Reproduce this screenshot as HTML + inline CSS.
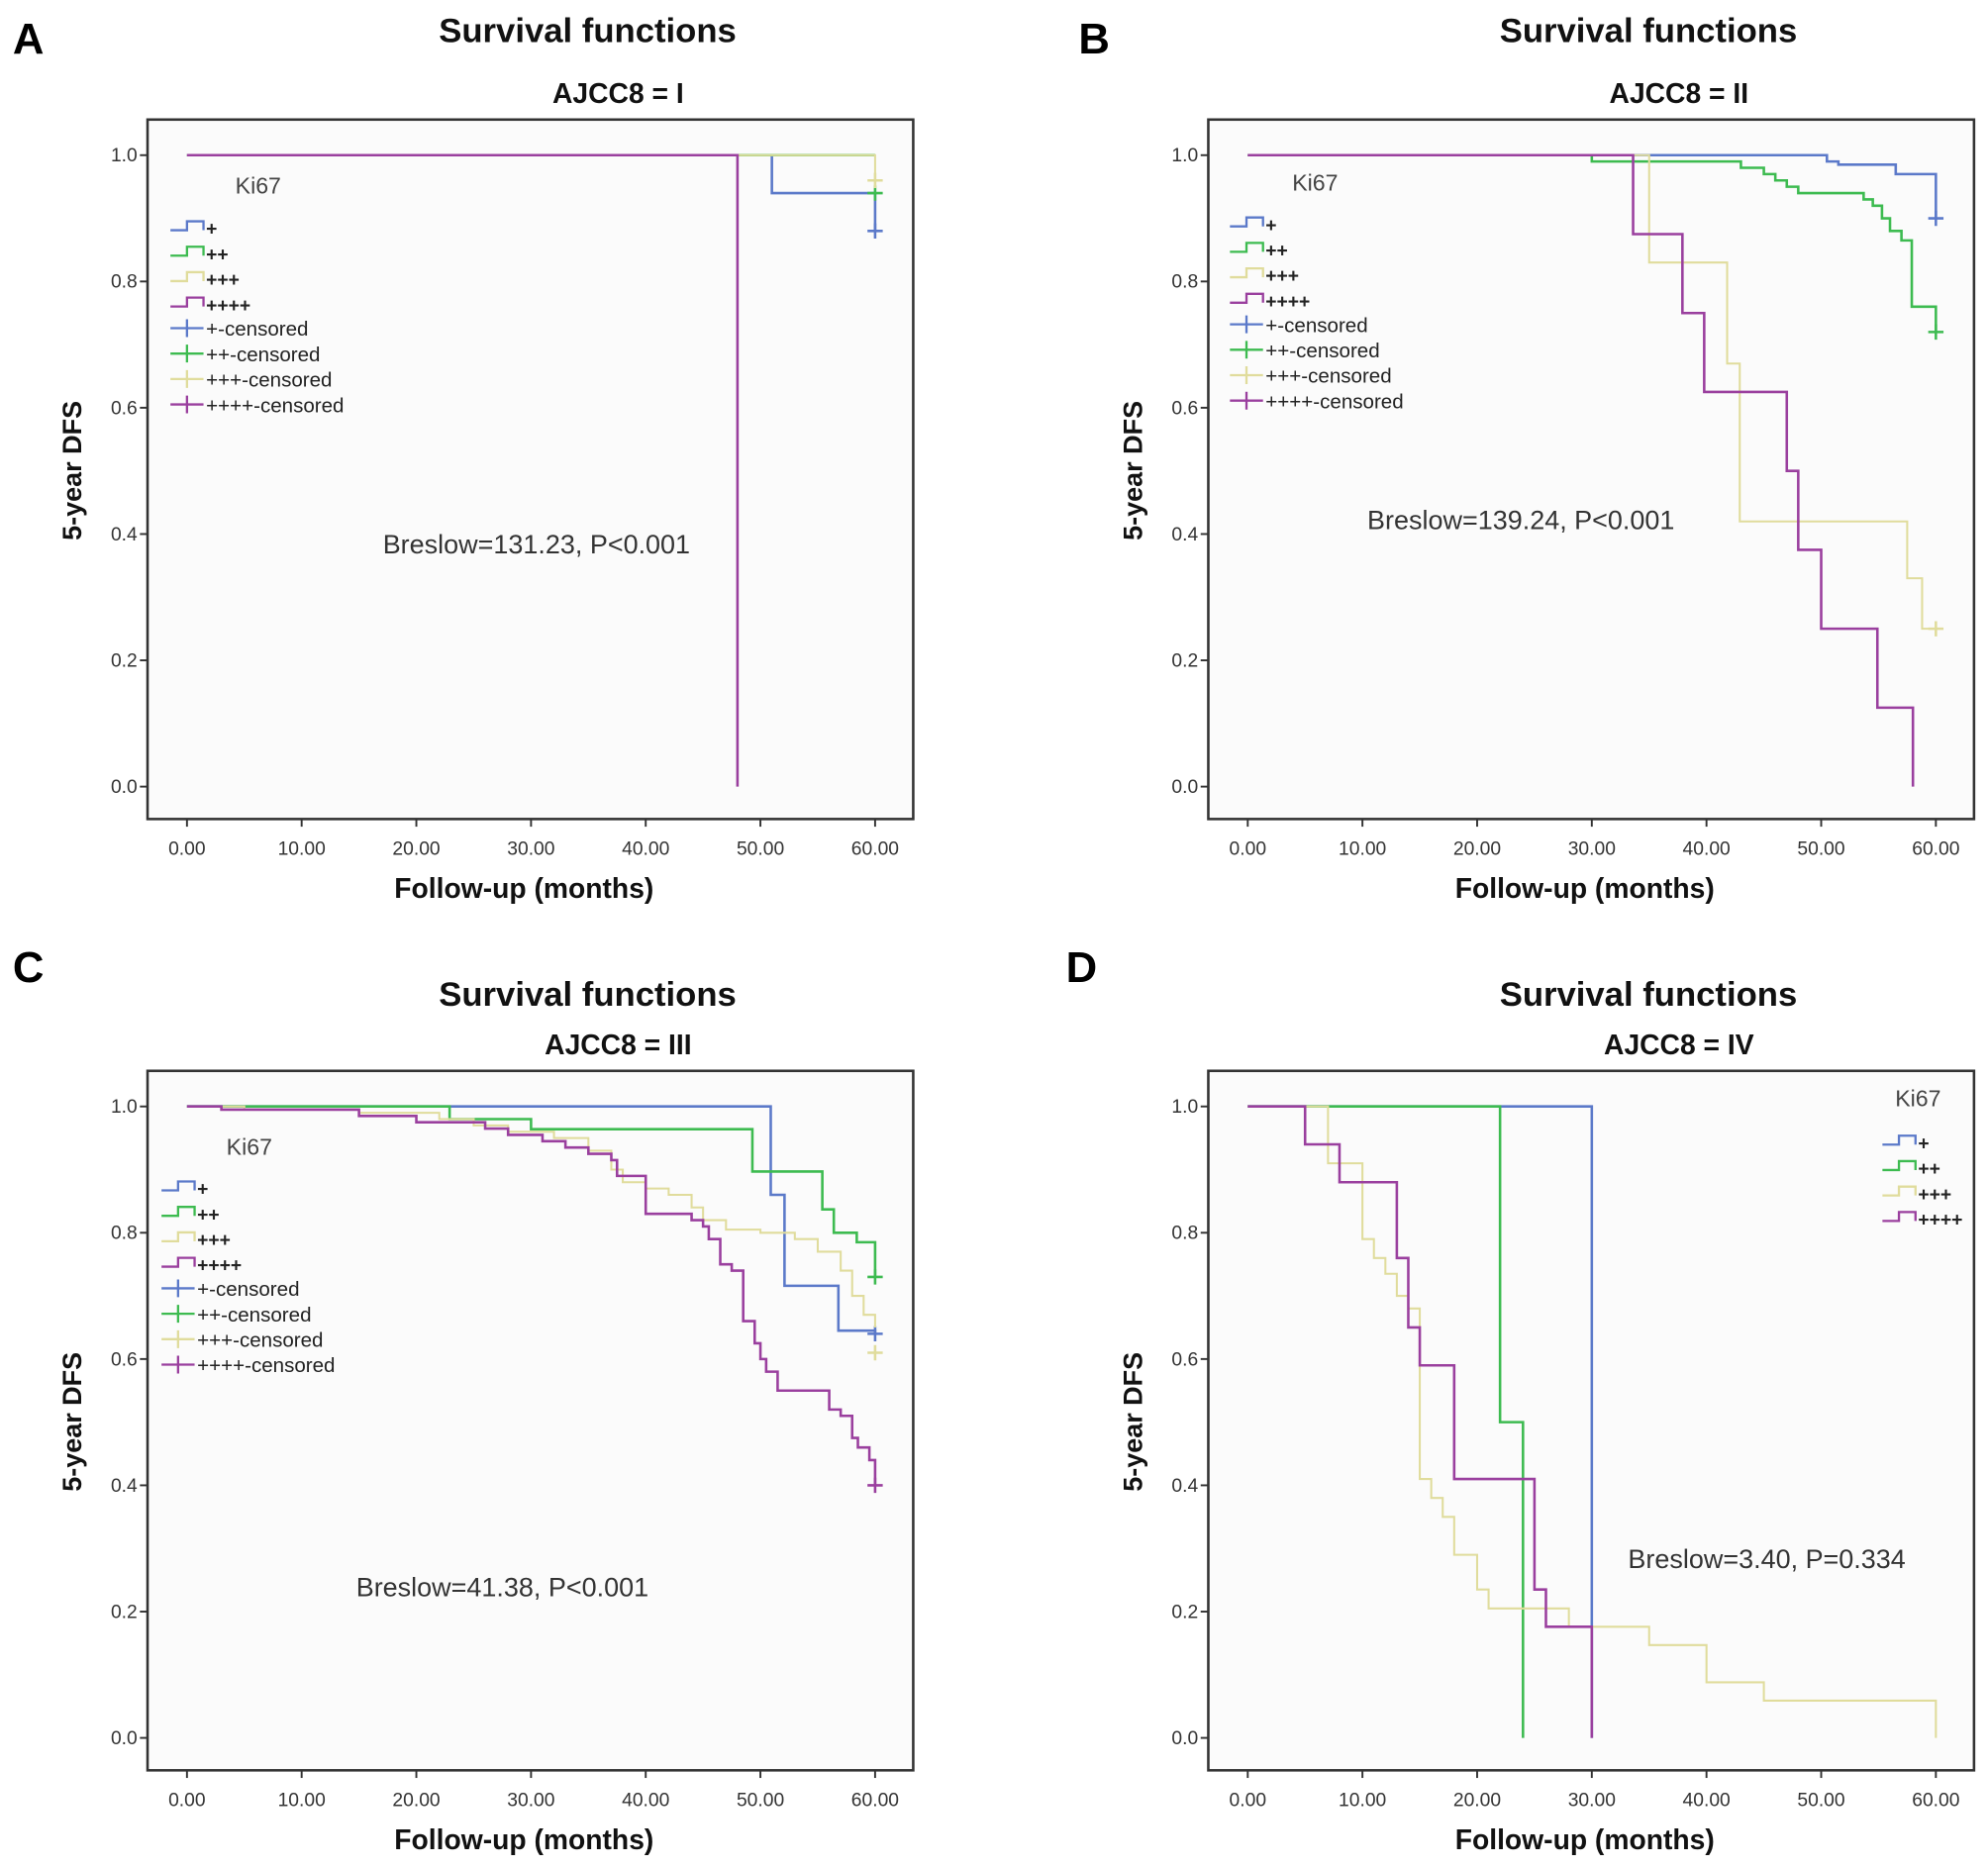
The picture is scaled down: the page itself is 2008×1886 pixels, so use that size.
<!DOCTYPE html>
<html><head><meta charset="utf-8">
<style>
html,body{margin:0;padding:0;background:#fff;}
svg{display:block;font-family:"Liberation Sans",Arial,sans-serif;}
</style></head>
<body>
<svg id="fig" width="2008" height="1886" viewBox="0 0 1563 1468" xmlns="http://www.w3.org/2000/svg"></svg>
<script>
// ---- data (time in months, survival value after the step) ----
const xTicks = [0,10,20,30,40,50,60];
const xTickLabels = ["0.00","10.00","20.00","30.00","40.00","50.00","60.00"];
const yTicks = [0,0.2,0.4,0.6,0.8,1.0];
const yTickLabels = ["0.0","0.2","0.4","0.6","0.8","1.0"];
const groupNames = ["+","++","+++","++++"];
const panelLetters = ["A","B","C","D"];
const panelSubtitles = ["AJCC8 = I","AJCC8 = II","AJCC8 = III","AJCC8 = IV"];
const breslowTexts = ["Breslow=131.23, P<0.001","Breslow=139.24,  P<0.001","Breslow=41.38, P<0.001","Breslow=3.40, P=0.334"];

// Panel A
const aPlusT=[51,60], aPlusS=[0.94,0.88], aPlusEnd=60, aPlusCens=[0.88];
const aPP_T=[], aPP_S=[], aPP_End=60, aPP_Cens=[0.94];
const aPPP_T=[60], aPPP_S=[0.96], aPPP_End=60, aPPP_Cens=[0.96];
const aPPPP_T=[48], aPPPP_S=[0], aPPPP_End=48, aPPPP_Cens=[];
// Panel B
const bPlusT=[50.5,51.5,56.5,60], bPlusS=[0.99,0.985,0.97,0.90], bPlusEnd=60, bPlusCens=[0.90];
const bPP_T=[30,43,45,46,47,48,53.7,54.5,55.3,56,57,57.9,60], bPP_S=[0.99,0.98,0.97,0.96,0.95,0.94,0.93,0.92,0.90,0.88,0.865,0.76,0.72], bPP_End=60, bPP_Cens=[0.72];
const bPPP_T=[35,41.8,42.9,57.5,58.8,60], bPPP_S=[0.83,0.67,0.42,0.33,0.25,0.25], bPPP_End=60, bPPP_Cens=[0.25];
const bPPPP_T=[33.6,37.9,39.8,47,48,50,54.9,58], bPPPP_S=[0.875,0.75,0.625,0.5,0.375,0.25,0.125,0], bPPPP_End=58, bPPPP_Cens=[];
// Panel C
const cPlusT=[50.9,52.1,56.8,60], cPlusS=[0.86,0.716,0.645,0.64], cPlusEnd=60, cPlusCens=[0.64];
const cPP_T=[22.9,30,49.3,55.4,56.4,58.4,60], cPP_S=[0.98,0.964,0.897,0.837,0.80,0.785,0.73], cPP_End=60, cPP_Cens=[0.73];
const cPPP_T=[5,15,22,25,28,32,35,37,38,40,42,44,45,47,50,53,55,57,58,59,60], cPPP_S=[0.995,0.99,0.98,0.97,0.96,0.95,0.93,0.90,0.88,0.87,0.86,0.84,0.82,0.805,0.80,0.79,0.77,0.74,0.70,0.67,0.65], cPPP_End=60, cPPP_Cens=[0.61];
const cPPPP_T=[3,15,20,26,28,31,33,35,37,37.5,40,44,45,45.5,46.5,47.5,48.5,49.5,50,50.5,51.5,56,57,58,58.5,59.5,60], cPPPP_S=[0.995,0.985,0.975,0.965,0.955,0.945,0.935,0.925,0.915,0.89,0.83,0.82,0.81,0.79,0.75,0.74,0.66,0.625,0.60,0.58,0.55,0.52,0.51,0.475,0.46,0.44,0.40], cPPPP_End=60, cPPPP_Cens=[0.40];
// Panel D
const dPlusT=[30], dPlusS=[0], dPlusEnd=30, dPlusCens=[];
const dPP_T=[22,24], dPP_S=[0.5,0], dPP_End=24, dPP_Cens=[];
const dPPP_T=[7,10,11,12,13,14,15,16,17,18,20,21,28,35,40,45,60], dPPP_S=[0.91,0.79,0.76,0.735,0.70,0.68,0.41,0.38,0.35,0.29,0.235,0.205,0.176,0.147,0.088,0.059,0], dPPP_End=60, dPPP_Cens=[];
const dPPPP_T=[5,8,13,14,15,18,25,26,30], dPPPP_S=[0.94,0.88,0.76,0.65,0.59,0.41,0.235,0.176,0], dPPPP_End=30, dPPPP_Cens=[];

const colors=["#5b79c9","#3dbb50","#e0dc9c","#9a3f9e"];
const NS="http://www.w3.org/2000/svg";
const svg=document.getElementById("fig");
function mk(tag,attrs,parent){const e=document.createElementNS(NS,tag);for(const k in attrs)e.setAttribute(k,attrs[k]);(parent||svg).appendChild(e);return e;}
function txt(str,attrs,parent){const e=mk("text",attrs,parent);e.textContent=str;return e;}

const panels=[
 {fx:116,fy:94,tdy:-61,lx:10,ly:42,series:[[aPlusT,aPlusS,aPlusEnd,aPlusCens],[aPP_T,aPP_S,aPP_End,aPP_Cens],[aPPP_T,aPPP_S,aPPP_End,aPPP_Cens],[aPPPP_T,aPPPP_S,aPPPP_End,aPPPP_Cens]],leg:{x:134,y:178,kx:185,ky:152,cens:true},br:[301,435]},
 {fx:950,fy:94,tdy:-61,lx:848,ly:42,series:[[bPlusT,bPlusS,bPlusEnd,bPlusCens],[bPP_T,bPP_S,bPP_End,bPP_Cens],[bPPP_T,bPPP_S,bPPP_End,bPPP_Cens],[bPPPP_T,bPPPP_S,bPPPP_End,bPPPP_Cens]],leg:{x:967,y:175,kx:1016,ky:150,cens:true},br:[1075,416]},
 {fx:116,fy:842,tdy:-51,lx:10,ly:772,series:[[cPlusT,cPlusS,cPlusEnd,cPlusCens],[cPP_T,cPP_S,cPP_End,cPP_Cens],[cPPP_T,cPPP_S,cPPP_End,cPPP_Cens],[cPPPP_T,cPPPP_S,cPPPP_End,cPPPP_Cens]],leg:{x:127,y:933,kx:178,ky:908,cens:true},br:[280,1255]},
 {fx:950,fy:842,tdy:-51,lx:838,ly:772,series:[[dPlusT,dPlusS,dPlusEnd,dPlusCens],[dPP_T,dPP_S,dPP_End,dPP_Cens],[dPPP_T,dPPP_S,dPPP_End,dPPP_Cens],[dPPPP_T,dPPPP_S,dPPPP_End,dPPPP_Cens]],leg:{x:1480,y:897,kx:1490,ky:870,cens:false},br:[1280,1233]}
];

panels.forEach((p,pi)=>{
  const g=mk("g",{});
  
  
  const W=602,H=550;
  const x0=p.fx+31, xs=9.017; const y1=p.fy+28, ys=496.5;
  const X=t=>x0+t*xs, Y=s=>y1+(1-s)*ys;
  const cx=p.fx+W/2+45;
  const t1=txt("Survival functions",{x:cx,y:p.fy+p.tdy,"text-anchor":"middle","font-size":"27","font-weight":"bold",fill:"#111"},g);
  
  
  const t2=txt(panelSubtitles[pi],{x:p.fx+W/2+69,y:p.fy-13,"text-anchor":"middle","font-size":"22","font-weight":"bold",fill:"#111"},g);
  
  
  const pl=txt(panelLetters[pi],{x:p.lx,y:p.ly,"font-size":"34","font-weight":"bold",fill:"#000"},g);
  
  
  const fr=mk("rect",{x:p.fx,y:p.fy,width:W,height:H,fill:"#fbfbfb",stroke:"#333","stroke-width":"2"},g);
  
  
  yTicks.forEach((v,i)=>{
    const tk=mk("line",{x1:p.fx-6,x2:p.fx,y1:Y(v),y2:Y(v),stroke:"#333","stroke-width":"1.5"},g);
    
    
    const tl=txt(yTickLabels[i],{x:p.fx-8,y:Y(v)+5,"text-anchor":"end","font-size":"15",fill:"#333"},g);
    
    
  });
  xTicks.forEach((v,i)=>{
    const tk=mk("line",{x1:X(v),x2:X(v),y1:p.fy+H,y2:p.fy+H+6,stroke:"#333","stroke-width":"1.5"},g);
    
    
    const tl=txt(xTickLabels[i],{x:X(v),y:p.fy+H+28,"text-anchor":"middle","font-size":"15",fill:"#333"},g);
    
    
  });
  const yl=txt("5-year DFS",{x:0,y:0,transform:`translate(${p.fx-52},${p.fy+276}) rotate(-90)`,"text-anchor":"middle","font-size":"21","font-weight":"bold",fill:"#111"},g);
  
  
  const xl=txt("Follow-up (months)",{x:p.fx+W/2-5,y:p.fy+H+62,"text-anchor":"middle","font-size":"22","font-weight":"bold",fill:"#111"},g);
  
  
  // series
  p.series.forEach((s,si)=>{
    const [T,S,end,C]=s;
    let d=`M${X(0)},${Y(1)}`; let prev=1;
    T.forEach((t,k)=>{d+=` L${X(t)},${Y(prev)} L${X(t)},${Y(S[k])}`;prev=S[k];});
    d+=` L${X(end)},${Y(prev)}`;
    const path=mk("path",{d:d,fill:"none",stroke:colors[si],"stroke-width":si===2?"1.6":"2"},g);
    
    
    C.forEach(cv=>{
      const m=mk("path",{d:`M${X(end)-6},${Y(cv)} h12 M${X(end)},${Y(cv)-6} v12`,stroke:colors[si],"stroke-width":"2"},g);
      
      
    });
  });
  // legend
  const L=p.leg;
  const kt=txt("Ki67",{x:L.kx,y:L.ky,"font-size":"18",fill:"#444"},g);
  
  
  groupNames.forEach((n,i)=>{
    const yy=L.y+i*20;
    const ic=mk("path",{d:`M${L.x},${yy+3} h13 v-7 h13 v7`,fill:"none",stroke:colors[i],"stroke-width":"1.8"},g);
    
    
    const lt=txt(n,{x:L.x+28,y:yy+7,"font-size":"15","font-weight":"bold",fill:"#222"},g);
    
    
  });
  if(L.cens){
    groupNames.forEach((n,i)=>{
      const yy=L.y+80+i*20;
      const ic=mk("path",{d:`M${L.x},${yy} h26 M${L.x+13},${yy-7} v14`,fill:"none",stroke:colors[i],"stroke-width":"1.8"},g);
      
      
      const lt=txt(n+"-censored",{x:L.x+28,y:yy+6,"font-size":"16",fill:"#222"},g);
      
      
    });
  }
  const bt=txt(breslowTexts[pi],{x:p.br[0],y:p.br[1],"font-size":"21",fill:"#333"},g);
  
  
});
</script>
</body></html>
